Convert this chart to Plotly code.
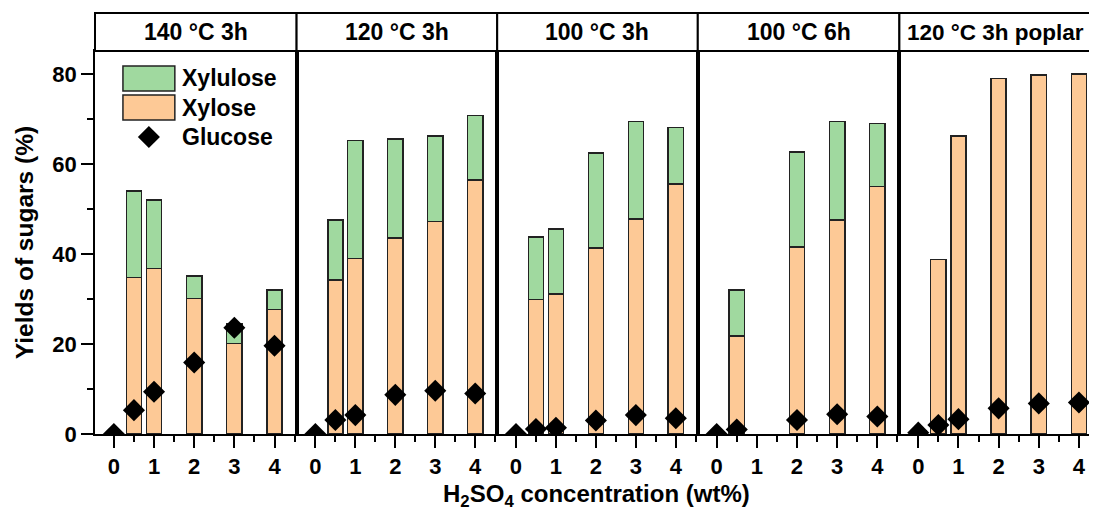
import plotly.graph_objects as go

# ---------------- data ----------------
panels = ["140 °C 3h", "120 °C 3h", "100 °C 3h", "100 °C 6h", "120 °C 3h poplar"]
x_pos = [0, 0.5, 1, 2, 3, 4]
tick_vals = [0, 1, 2, 3, 4]
tick_text = ["0", "1", "2", "3", "4"]

xylose = [
    [None, 34.8, 36.8, 30.1, 20.1, 27.7],
    [None, 34.2, 39.0, 43.6, 47.2, 56.4],
    [None, 29.9, 31.1, 41.3, 47.8, 55.6],
    [None, 21.8, None, 41.6, 47.6, 55.0],
    [0.8, 38.8, 66.2, 79.0, 79.8, 80.0],
]
xylulose = [
    [None, 19.2, 15.2, 5.0, 4.3, 4.3],
    [None, 13.4, 26.2, 22.0, 19.0, 14.4],
    [None, 13.9, 14.5, 21.1, 21.6, 12.5],
    [None, 10.2, None, 21.1, 21.8, 14.0],
    [None, None, None, None, None, None],
]
glucose = [
    [0, 5.3, 9.4, 15.9, 23.6, 19.6],
    [0, 3.1, 4.2, 8.7, 9.6, 9.0],
    [0, 1.1, 1.4, 3.0, 4.2, 3.5],
    [0, 1.0, None, 3.1, 4.4, 3.9],
    [0.3, 2.0, 3.3, 5.7, 6.8, 7.0],
]

# ---------------- style ----------------
OFF = 8  # page body margin of the html page
W, H = 1097 - OFF, 515 - OFF
ML, MT = 95 - OFF, 51 - OFF
MB = H - (434 - OFF)
MR = 0
C_XYLULOSE = "#a0d99f"
C_XYLOSE = "#fdc996"
EDGE = "#222222"
FONT = "Liberation Sans"
bounds_px = [95, 297, 498, 699, 901, 1097]  # reference pixel coordinates
pw = W - ML - MR
ph = H - MT - MB


def px_x(px):
    return (px - OFF - ML) / pw


def px_y(py):
    return (H - MB - (py - OFF)) / ph


doms = [(px_x(bounds_px[i]), min(1.0, px_x(bounds_px[i + 1]))) for i in range(5)]
strip_h = 38 / ph

fig = go.Figure()

for i in range(5):
    xa = "x" if i == 0 else f"x{i+1}"
    ya = "y" if i == 0 else f"y{i+1}"
    fig.add_trace(go.Bar(x=x_pos, y=xylose[i], width=0.38,
                         marker=dict(color=C_XYLOSE, line=dict(color=EDGE, width=1.5)),
                         xaxis=xa, yaxis=ya, showlegend=False, name="Xylose"))
    fig.add_trace(go.Bar(x=x_pos, y=xylulose[i], width=0.38,
                         marker=dict(color=C_XYLULOSE, line=dict(color=EDGE, width=1.5)),
                         xaxis=xa, yaxis=ya, showlegend=False, name="Xylulose"))
    fig.add_trace(go.Scatter(x=x_pos, y=glucose[i], mode="markers",
                             marker=dict(symbol="diamond", size=17, color="black"),
                             xaxis=xa, yaxis=ya, showlegend=False, name="Glucose"))

    xr = [-0.47, 4.55] if i < 4 else [-0.47, 4.40]
    xkey = "xaxis" if i == 0 else f"xaxis{i+1}"
    ykey = "yaxis" if i == 0 else f"yaxis{i+1}"
    fig.layout[xkey] = dict(domain=list(doms[i]), range=xr, anchor=ya, tickvals=tick_vals, ticktext=tick_text,
                            ticks="outside", ticklen=12, tickwidth=2, tickcolor="black",
                            minor=dict(dtick=0.5, tick0=0.5, ticks="outside", ticklen=6, tickwidth=2,
                                       tickcolor="black"),
                            showline=True, linecolor="black", linewidth=1.8, mirror=True,
                            showgrid=False, zeroline=False,
                            tickfont=dict(family=FONT, size=22, color="black", weight="bold"))
    yd = dict(domain=[0, 1], range=[0, 85.1], anchor=xa, showline=True, linecolor="black", linewidth=1.8,
              mirror=True, showgrid=False, zeroline=False)
    if i == 0:
        yd.update(tickvals=[0, 20, 40, 60, 80], ticks="outside", ticklen=12, tickwidth=2, tickcolor="black",
                  minor=dict(tickvals=[10, 30, 50, 70], ticks="outside", ticklen=6, tickwidth=2,
                             tickcolor="black"),
                  tickfont=dict(family=FONT, size=22, color="black", weight="bold"))
    else:
        yd.update(showticklabels=False, ticks="")
    fig.layout[ykey] = yd

    # strip
    fig.add_shape(type="rect", xref="paper", yref="paper", x0=doms[i][0], x1=doms[i][1] if i < 4 else 1.01,
                  y0=1, y1=1 + strip_h, line=dict(color="black", width=2), fillcolor="white", layer="above")
    if i < 4:
        fig.add_annotation(xref="paper", yref="paper", x=(doms[i][0] + doms[i][1]) / 2, y=1 + strip_h / 2,
                           text=panels[i], showarrow=False, xanchor="center", yanchor="middle",
                           font=dict(family=FONT, size=23, color="black", weight="bold"))
    else:
        fig.add_annotation(xref="paper", yref="paper", x=px_x(907), y=1 + strip_h / 2,
                           text=panels[i], showarrow=False, xanchor="left", yanchor="middle",
                           font=dict(family=FONT, size=22.5, color="black", weight="bold"))

# ---------------- legend (manual) ----------------
leg_items = [("Xylulose", C_XYLULOSE, 66, 91), ("Xylose", C_XYLOSE, 95, 120)]
for name, col, y0, y1 in leg_items:
    fig.add_shape(type="rect", xref="paper", yref="paper", x0=px_x(123), x1=px_x(175), y0=px_y(y1), y1=px_y(y0),
                  line=dict(color=EDGE, width=1.5), fillcolor=col)
    fig.add_annotation(xref="paper", yref="paper", x=px_x(180), y=px_y((y0 + y1) / 2), text=name,
                       showarrow=False, xanchor="left", yanchor="middle",
                       font=dict(family=FONT, size=23, color="black", weight="bold"))
# legend diamond on an overlay axis (takes panel-1 domain)
fig.add_trace(go.Scatter(x=[(149 - 95) / 202], y=[px_y(137)], xaxis="x6", yaxis="y6", mode="markers",
                         marker=dict(symbol="diamond", size=17, color="black"), showlegend=False,
                         hoverinfo="skip"))
fig.layout["xaxis6"] = dict(range=[0, 1], visible=False, anchor="y6", overlaying="x")
fig.layout["yaxis6"] = dict(range=[0, 1], visible=False, anchor="x6", overlaying="y")
fig.add_annotation(xref="paper", yref="paper", x=px_x(180), y=px_y(137), text="Glucose", showarrow=False,
                   xanchor="left", yanchor="middle",
                   font=dict(family=FONT, size=23, color="black", weight="bold"))

# axis titles
fig.add_annotation(xref="paper", yref="paper", x=px_x(598), y=px_y(495),
                   text="H<sub>2</sub>SO<sub>4</sub> concentration (wt%)",
                   showarrow=False, xanchor="center", yanchor="middle",
                   font=dict(family=FONT, size=24, color="black", weight="bold"))
fig.add_annotation(xref="paper", yref="paper", x=px_x(24), y=px_y(243), text="Yields of sugars (%)",
                   textangle=-90, showarrow=False, xanchor="center", yanchor="middle",
                   font=dict(family=FONT, size=24.5, color="black", weight="bold"))

fig.update_layout(width=W, height=H, margin=dict(l=ML, r=MR, t=MT, b=MB, pad=0), barmode="stack",
                  plot_bgcolor="white", paper_bgcolor="white", showlegend=False)

fig.write_html("out.html")
